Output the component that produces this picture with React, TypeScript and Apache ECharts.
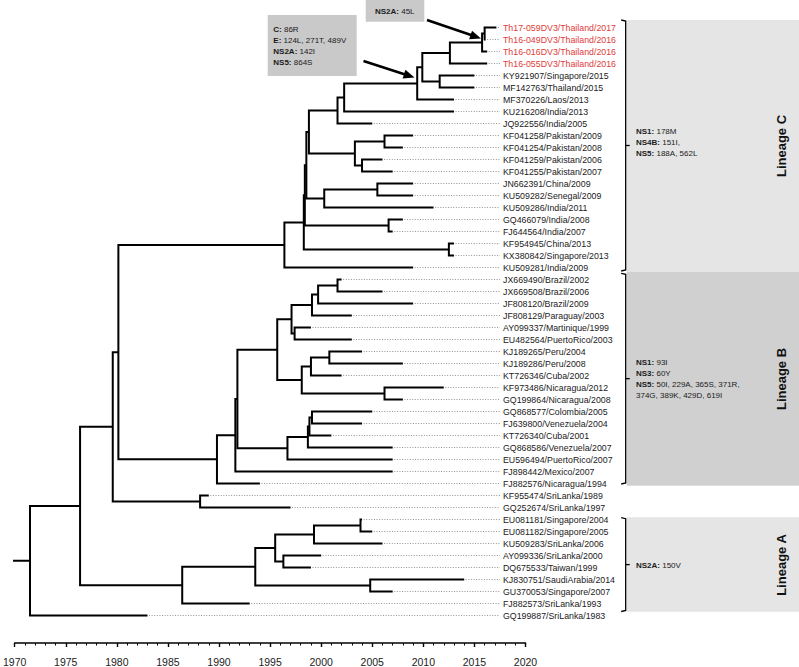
import React, { useEffect, useRef } from "react";
import * as echarts from "echarts";

const FONT = "'Liberation Sans', Arial, Helvetica, sans-serif";

// Tip labels, top to bottom
const tipLabels = [
  "Th17-059DV3/Thailand/2017", "Th16-049DV3/Thailand/2016", "Th16-016DV3/Thailand/2016", "Th16-055DV3/Thailand/2016",
  "KY921907/Singapore/2015", "MF142763/Thailand/2015", "MF370226/Laos/2013", "KU216208/India/2013", "JQ922556/India/2005",
  "KF041258/Pakistan/2009", "KF041254/Pakistan/2008", "KF041259/Pakistan/2006", "KF041255/Pakistan/2007",
  "JN662391/China/2009", "KU509282/Senegal/2009", "KU509286/India/2011", "GQ466079/India/2008", "FJ644564/India/2007",
  "KF954945/China/2013", "KX380842/Singapore/2013", "KU509281/India/2009",
  "JX669490/Brazil/2002", "JX669508/Brazil/2006", "JF808120/Brazil/2009", "JF808129/Paraguay/2003", "AY099337/Martinique/1999",
  "EU482564/PuertoRico/2003", "KJ189265/Peru/2004", "KJ189286/Peru/2008", "KT726346/Cuba/2002", "KF973486/Nicaragua/2012",
  "GQ199864/Nicaragua/2008", "GQ868577/Colombia/2005", "FJ639800/Venezuela/2004", "KT726340/Cuba/2001", "GQ868586/Venezuela/2007",
  "EU596494/PuertoRico/2007", "FJ898442/Mexico/2007", "FJ882576/Nicaragua/1994", "KF955474/SriLanka/1989", "GQ252674/SriLanka/1997",
  "EU081181/Singapore/2004", "EU081182/Singapore/2005", "KU509283/SriLanka/2006", "AY099336/SriLanka/2000", "DQ675533/Taiwan/1999",
  "KJ830751/SaudiArabia/2014", "GU370053/Singapore/2007", "FJ882573/SriLanka/1993", "GQ199887/SriLanka/1983",
];

// Tip times (decimal years)
const tipYears = [
  2017.15, 2016.1, 2016.25, 2016.25,
  2015, 2015, 2013, 2013, 2005,
  2009, 2008, 2006, 2007,
  2009, 2009, 2011, 2008, 2007,
  2013, 2013, 2009,
  2002, 2006, 2009, 2003, 1999,
  2003, 2004, 2008, 2002, 2012,
  2008, 2005, 2004, 2001, 2007,
  2007, 2007, 1994, 1989, 1997,
  2004, 2005, 2006, 2000, 1999,
  2014, 2007, 1993, 1983,
];

const highlightTips = [0, 1, 2, 3];

// Internal nodes: name, time, children (number = tip index, string = node name)
const nodeNames = [
  "thA", "thB", "thC", "kyMf", "c1", "c2", "c3", "c4", "pk1", "pk2", "pk", "n4", "cs1", "cs", "n3", "gf", "n2", "kk", "n1", "cRoot",
  "br3", "br2", "br1", "ae", "br", "pe2", "pe1", "ni", "pe", "bp", "vz3", "vzX", "vz1", "vz", "m2", "m1", "bRoot",
  "bc", "sl", "bcsl", "eu", "a1", "ad", "a2", "kg", "a3", "aRoot", "main", "root",
];
const nodeTimes = [
  2016.0, 2015.75, 2012.6, 2011.6, 2009.9, 2009.4, 2002.25, 2001.6, 2006.2, 2004.0, 2003.3, 1998.8, 2005.5, 2000.3, 1998.55, 2006.6, 1998.4, 2012.5, 1998.3, 1996.4,
  2001.6, 1999.7, 1999.1, 1997.4, 1997.1, 2000.8, 1999.0, 2006.2, 1998.1, 1995.7, 1999.1, 1998.85, 1998.7, 1996.7, 1991.8, 1991.6, 1989.8,
  1980.15, 1988.15, 1979.6, 2003.85, 1999.3, 1996.3, 1995.5, 2004.8, 1993.55, 1986.4, 1976.4, 1971.5,
];
const nodeKids: (number | string)[][] = [
  [0, 1], ["thA", 2], ["thB", 3], [4, 5], ["thC", "kyMf"], ["c1", 6], ["c2", 7], ["c3", 8], [9, 10], [11, 12], ["pk1", "pk2"],
  ["c4", "pk"], [13, 14], ["cs1", 15], ["n4", "cs"], [16, 17], ["n3", "gf"], [18, 19], ["n2", "kk"], ["n1", 20],
  [21, 22], ["br3", 23], ["br2", 24], [25, 26], ["br1", "ae"], [27, 28], ["pe2", 29], [30, 31], ["pe1", "ni"], ["br", "pe"],
  [32, 33], ["vz3", 34], ["vzX", 35], ["vz1", 36], ["bp", "vz"], ["m2", 37], ["m1", 38],
  ["cRoot", "bRoot"], [39, 40], ["bc", "sl"], [41, 42], ["eu", 43], [44, 45], ["a1", "ad"], [46, 47], ["a2", "kg"], ["a3", 48],
  ["bcsl", "aRoot"], ["main", 49],
];

const rootStubStart = 1969;
const leaderEnd = 2017.5;
const xTicks = [1970, 2020, 5];

function buildTree() {
  const idx: Record<string, number> = {};
  nodeNames.forEach((n, i) => (idx[n] = i));
  const yCache: Record<string, number> = {};
  const yOf = (r: number | string): number => {
    if (typeof r === "number") return r;
    if (yCache[r] !== undefined) return yCache[r];
    const kids = nodeKids[idx[r]];
    const ys = kids.map(yOf);
    const v = (Math.min(...ys) + Math.max(...ys)) / 2;
    yCache[r] = v;
    return v;
  };
  const tOf = (r: number | string): number => (typeof r === "number" ? tipYears[r] : nodeTimes[idx[r]]);
  const branches: any[] = [];
  nodeNames.forEach((n, i) => {
    const t = nodeTimes[i];
    const kids = nodeKids[i];
    const a = kids[0];
    const b = kids[kids.length - 1];
    branches.push({
      coords: [
        [tOf(a), yOf(a)],
        [t, yOf(a)],
        [t, yOf(b)],
        [tOf(b), yOf(b)],
      ],
    });
  });
  const rootY = yOf("root");
  branches.push({ coords: [[rootStubStart, rootY], [nodeTimes[idx["root"]], rootY]] });
  const leaders: any[] = [];
  tipYears.forEach((t, i) => {
    if (t < leaderEnd - 0.2) leaders.push({ coords: [[t + 0.15, i], [leaderEnd, i]] });
  });
  return { branches, leaders };
}

function arrow(x1: number, y1: number, x2: number, y2: number) {
  const dx = x2 - x1, dy = y2 - y1;
  const L = Math.hypot(dx, dy);
  const ux = dx / L, uy = dy / L;
  const hl = 11, hw = 4.5;
  const bx = x2 - ux * hl, by = y2 - uy * hl;
  return [
    { type: "line", shape: { x1, y1, x2: bx + ux * 2, y2: by + uy * 2 }, style: { stroke: "#000", lineWidth: 2.6 }, z: 10 },
    {
      type: "polygon",
      shape: { points: [[x2, y2], [bx - uy * hw, by + ux * hw], [bx + uy * hw, by - ux * hw]] },
      style: { fill: "#000" },
      z: 10,
    },
  ];
}

function brace(x: number, top: number, bottom: number) {
  const mid = (top + bottom) / 2;
  return [
    {
      type: "polyline",
      shape: { points: [[x - 4.5, top], [x, top + 1], [x, bottom - 1], [x - 4.5, bottom]] },
      style: { stroke: "#000", lineWidth: 1.3, fill: null },
      z: 10,
    },
    { type: "line", shape: { x1: x, y1: mid, x2: x + 4, y2: mid }, style: { stroke: "#000", lineWidth: 1.3 }, z: 10 },
  ];
}

const rich = { b: { fontWeight: "bold", fontSize: 8, fontFamily: FONT, fill: "#1a1a1a" } };

function note(x: number, y: number, text: string, lh = 11) {
  return {
    type: "text",
    x,
    y,
    z: 11,
    style: { text, fontSize: 8, fontFamily: FONT, fill: "#1a1a1a", lineHeight: lh, verticalAlign: "top", align: "left", rich },
  };
}

function lineageLabel(x: number, y: number, text: string) {
  return {
    type: "text",
    x,
    y,
    rotation: Math.PI / 2,
    z: 11,
    style: { text, fontSize: 13, fontWeight: "bold", fontFamily: FONT, fill: "#111", align: "center", verticalAlign: "middle" },
  };
}

export default function App() {
  const ref = useRef<HTMLDivElement>(null);
  useEffect(() => {
    if (!ref.current) return;
    const chart = echarts.init(ref.current, undefined, { renderer: "svg" });
    const { branches, leaders } = buildTree();
    const option: any = {
      animation: false,
      backgroundColor: "#fff",
      grid: { left: 10.5, top: 21.5, width: 515, height: 600, containLabel: false },
      xAxis: {
        type: "value",
        min: xTicks[0],
        max: xTicks[1],
        interval: xTicks[2],
        offset: 21.5,
        position: "bottom",
        axisLine: { show: true, onZero: false, lineStyle: { color: "#000", width: 1.6 } },
        axisTick: { show: true, length: 4, lineStyle: { color: "#000", width: 1.4 } },
        minorTick: { show: true, splitNumber: 5, length: 2.5, lineStyle: { color: "#000", width: 1 } },
        axisLabel: { fontSize: 10.5, color: "#222", margin: 13, fontFamily: FONT, formatter: (v: number) => String(v) },
        splitLine: { show: false },
        minorSplitLine: { show: false },
      },
      yAxis: [
        { type: "value", min: -0.5, max: 49.5, inverse: true, show: false },
        {
          type: "category",
          data: tipLabels,
          inverse: true,
          position: "right",
          offset: -22.5,
          axisLine: { show: false },
          axisTick: { show: false },
          splitLine: { show: false },
          axisLabel: {
            interval: 0,
            margin: 0,
            fontSize: 8.8,
            fontFamily: FONT,
            color: (_v: any, i: number) => (highlightTips.includes(i) ? "#e03a3a" : "#1a1a1a"),
          },
        },
      ],
      series: [
        {
          type: "lines",
          coordinateSystem: "cartesian2d",
          polyline: true,
          silent: true,
          data: leaders,
          lineStyle: { color: "#777", width: 0.8, type: [1, 1.6], opacity: 1 },
          z: 2,
        },
        {
          type: "lines",
          coordinateSystem: "cartesian2d",
          polyline: true,
          silent: true,
          data: branches,
          lineStyle: { color: "#000", width: 2, opacity: 1, join: "miter", cap: "butt" },
          z: 3,
        },
      ],
      graphic: [
        { type: "rect", shape: { x: 626.7, y: 20, width: 173, height: 251.7 }, style: { fill: "#e5e5e5" }, z: 1 },
        { type: "rect", shape: { x: 626.7, y: 271.7, width: 173, height: 214 }, style: { fill: "#d0d0d0" }, z: 1 },
        { type: "rect", shape: { x: 626.7, y: 517.3, width: 173, height: 94.4 }, style: { fill: "#e5e5e5" }, z: 1 },
        ...brace(625.7, 20, 271),
        ...brace(625.7, 273.3, 484),
        ...brace(625.7, 517.7, 611.5),
        lineageLabel(781.7, 146, "Lineage C"),
        lineageLabel(781.7, 379, "Lineage B"),
        lineageLabel(781.7, 565, "Lineage A"),
        note(636, 125.5, "{b|NS1:} 178M\n{b|NS4B:} 151I,\n{b|NS5:} 188A, 562L"),
        note(636, 357, "{b|NS1:} 93I\n{b|NS3:} 60Y\n{b|NS5:} 50I, 229A, 365S, 371R,\n374G, 389K, 429D, 619I"),
        note(636, 560, "{b|NS2A:} 150V"),
        { type: "rect", shape: { x: 267.7, y: 15, width: 89, height: 61 }, style: { fill: "#c9c9c9" }, z: 9 },
        { type: "rect", shape: { x: 365.7, y: 0, width: 58.6, height: 21.7 }, style: { fill: "#c9c9c9" }, z: 9 },
        note(273.3, 23.8, "{b|C:} 86R\n{b|E:} 124L, 271T, 489V\n{b|NS2A:} 142I\n{b|NS5:} 864S", 11),
        note(375, 5.5, "{b|NS2A:} 45L"),
        ...arrow(427, 20, 481, 38.5),
        ...arrow(363.5, 61, 414.5, 77.5),
      ],
    };
    chart.setOption(option);
    return () => chart.dispose();
  }, []);
  return (
    <div
      ref={ref}
      style={{ position: "fixed", left: 0, top: 0, width: 799, height: 667, background: "#fff" }}
    />
  );
}
